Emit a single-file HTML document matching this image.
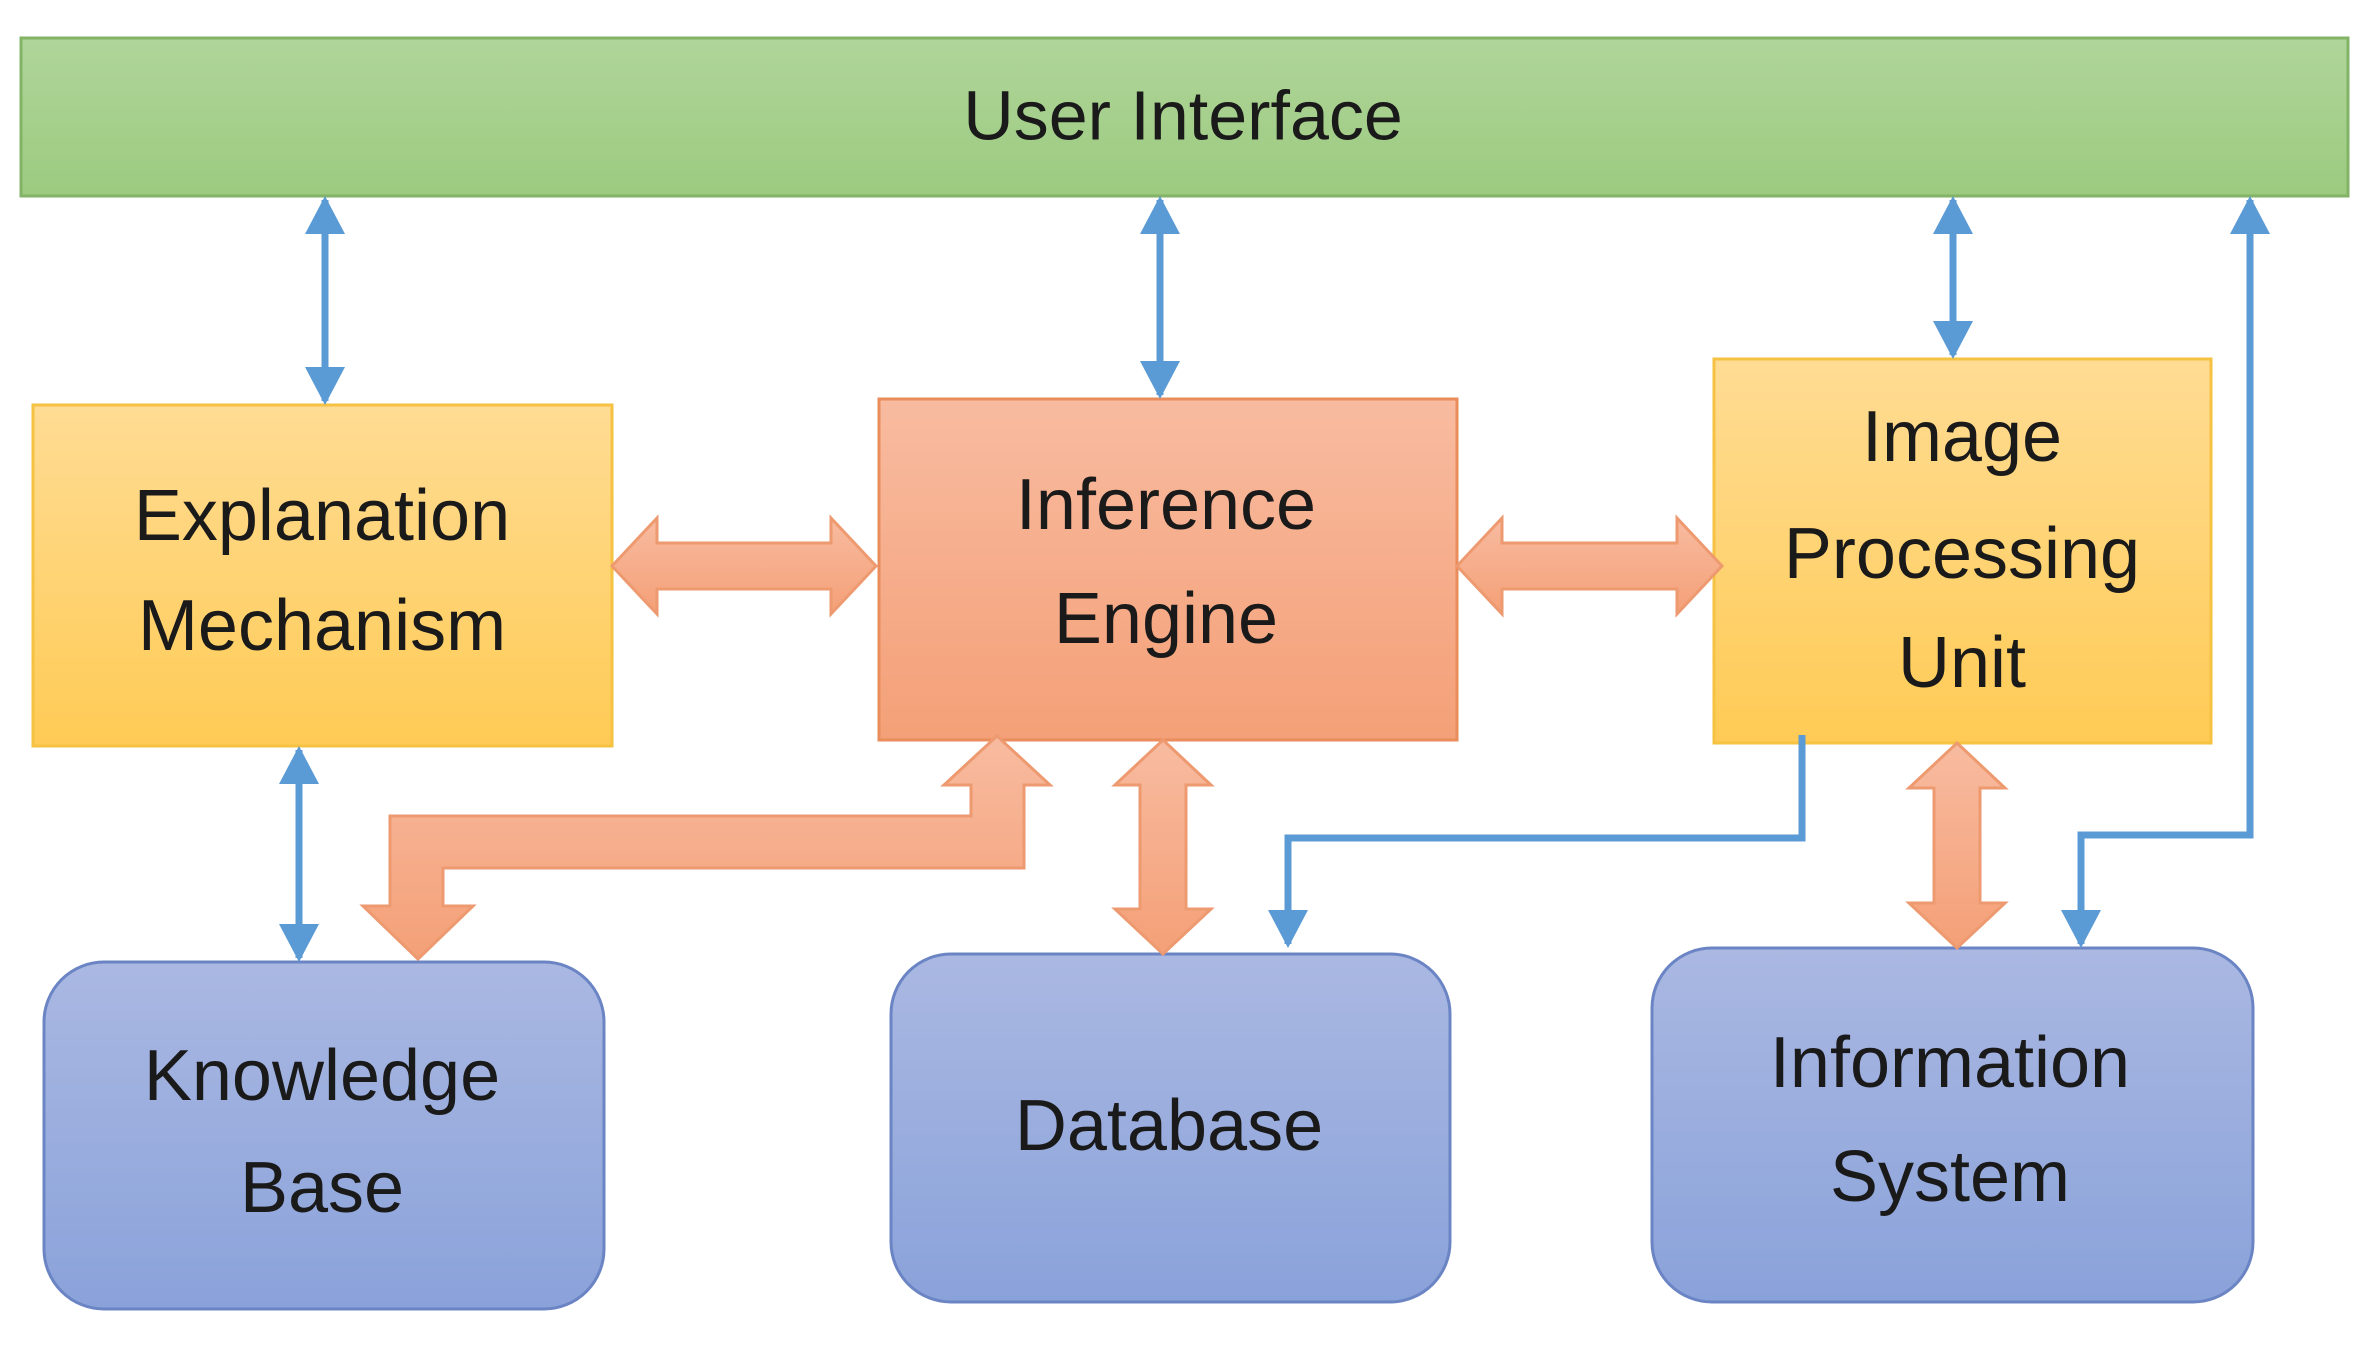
<!DOCTYPE html>
<html><head><meta charset="utf-8"><style>html,body{margin:0;padding:0;background:#fff}svg{display:block}</style></head>
<body>
<svg width="2368" height="1370" viewBox="0 0 2368 1370" xmlns="http://www.w3.org/2000/svg" font-family="'Liberation Sans', sans-serif">
<defs>
<linearGradient id="g" x1="0" y1="0" x2="0" y2="1"><stop offset="0" stop-color="#b0d59b"/><stop offset="1" stop-color="#9ccb7f"/></linearGradient>
<linearGradient id="y" x1="0" y1="0" x2="0" y2="1"><stop offset="0" stop-color="#ffdc94"/><stop offset="1" stop-color="#ffcb55"/></linearGradient>
<linearGradient id="o" x1="0" y1="0" x2="0" y2="1"><stop offset="0" stop-color="#f8bba0"/><stop offset="1" stop-color="#f4a077"/></linearGradient>
<linearGradient id="b" x1="0" y1="0" x2="0" y2="1"><stop offset="0" stop-color="#aab8e2"/><stop offset="1" stop-color="#8aa2da"/></linearGradient>
<marker id="ah" markerUnits="userSpaceOnUse" markerWidth="40" markerHeight="40" refX="34" refY="20" orient="auto-start-reverse"><path d="M0,0 L38,20 L0,40 z" fill="#5b9bd5"/></marker>
</defs>
<rect x="21" y="38" width="2327" height="158" fill="url(#g)" stroke="#82b366" stroke-width="3"/>
<text x="1183" y="121" font-size="70" text-anchor="middle" dominant-baseline="middle" fill="#1a1a1a">User Interface</text>

<rect x="33" y="405" width="579" height="341" fill="url(#y)" stroke="#f5c242" stroke-width="3"/>
<rect x="879" y="399" width="578" height="341" fill="url(#o)" stroke="#e98d5c" stroke-width="3"/>
<rect x="1714" y="359" width="497" height="384" fill="url(#y)" stroke="#f5c242" stroke-width="3"/>
<rect x="44" y="962" width="560" height="347" rx="60" fill="url(#b)" stroke="#6b84c4" stroke-width="3"/>
<rect x="891" y="954" width="559" height="348" rx="60" fill="url(#b)" stroke="#6b84c4" stroke-width="3"/>
<rect x="1652" y="948" width="601" height="354" rx="60" fill="url(#b)" stroke="#6b84c4" stroke-width="3"/>

<g fill="url(#o)" stroke="#ee9a70" stroke-width="3">
<polygon points="612,566 657,518 657,543 831,543 831,518 876,566 831,614 831,589 657,589 657,614"/>
<polygon points="1457,566 1502,518 1502,543 1677,543 1677,518 1722,566 1677,614 1677,589 1502,589 1502,614"/>
<polygon points="1163,740 1211,785 1186,785 1186,909 1211,909 1163,954 1115,909 1140,909 1140,785 1115,785"/>
<polygon points="1957,743 2005,788 1980,788 1980,903 2005,903 1957,948 1909,903 1934,903 1934,788 1909,788"/>
<polygon points="997,736 1050,785 1024,785 1024,868 443,868 443,906 473,906 418,959 363,906 390,906 390,816 971,816 971,785 944,785"/>
</g>

<g stroke="#5b9bd5" stroke-width="7" fill="none">
<line x1="325" y1="200" x2="325" y2="401" marker-start="url(#ah)" marker-end="url(#ah)"/>
<line x1="1160" y1="200" x2="1160" y2="395" marker-start="url(#ah)" marker-end="url(#ah)"/>
<line x1="1953" y1="200" x2="1953" y2="355" marker-start="url(#ah)" marker-end="url(#ah)"/>
<line x1="299" y1="750" x2="299" y2="958" marker-start="url(#ah)" marker-end="url(#ah)"/>
<polyline points="1802,735 1802,838 1288,838 1288,944" marker-end="url(#ah)"/>
<polyline points="2081,944 2081,835 2250,835 2250,200" marker-start="url(#ah)" marker-end="url(#ah)"/>
</g>

<g font-size="72" text-anchor="middle" dominant-baseline="middle" fill="#1a1a1a">
<text x="322" y="521">Explanation</text><text x="322" y="631">Mechanism</text>
<text x="1166" y="510">Inference</text><text x="1166" y="624">Engine</text>
<text x="1962" y="442">Image</text><text x="1962" y="559">Processing</text><text x="1962" y="668">Unit</text>
<text x="322" y="1081">Knowledge</text><text x="322" y="1193">Base</text>
<text x="1169" y="1131">Database</text>
<text x="1950" y="1068">Information</text><text x="1950" y="1182">System</text>
</g>
</svg>
</body></html>
